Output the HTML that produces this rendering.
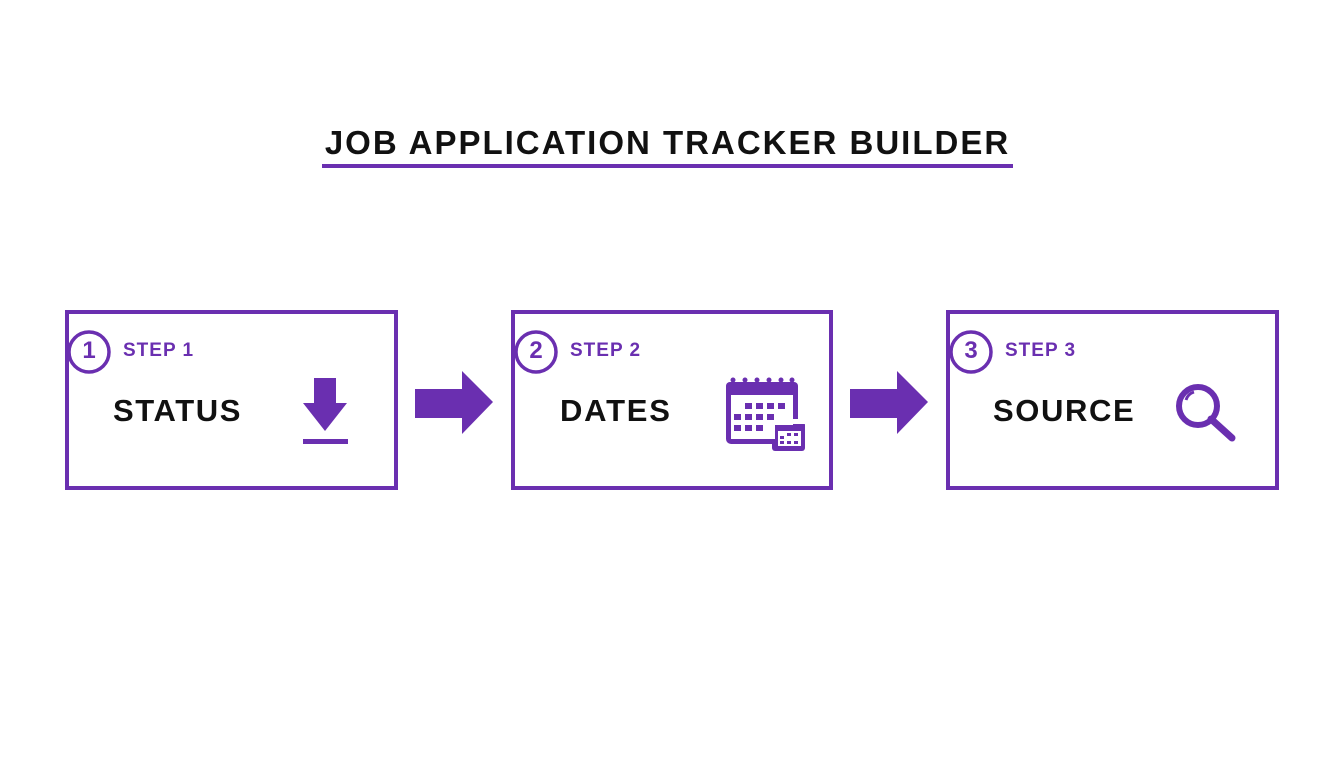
<!DOCTYPE html>
<html><head><style>
body{margin:0;width:1344px;height:768px;background:#fff;position:relative;overflow:hidden;font-family:"Liberation Sans",sans-serif}
.t{position:absolute;white-space:nowrap;font-weight:bold}
</style></head><body>
<div class="t" style="left:322px;top:124px;width:691px;text-align:center;font-size:33px;color:#111;letter-spacing:2px">JOB APPLICATION TRACKER BUILDER</div>
<div style="position:absolute;left:322px;top:164px;width:691px;height:4px;background:#6a2fb0"></div>
<svg width="1344" height="768" style="position:absolute;left:0;top:0">
<g fill="none" stroke="#6a2fb0" stroke-width="4">
<rect x="67" y="312" width="329" height="176"/>
<rect x="513" y="312" width="318" height="176"/>
<rect x="948" y="312" width="329" height="176"/>
<circle cx="89" cy="352" r="20" stroke-width="3.5"/>
<circle cx="536" cy="352" r="20" stroke-width="3.5"/>
<circle cx="971" cy="352" r="20" stroke-width="3.5"/>
<circle cx="1198" cy="406" r="19" stroke-width="6"/>
<path d="M1186 400 a12 12 0 0 1 8 -8" stroke-width="3"/>
</g>
<g fill="#6a2fb0">
<path d="M415 389H462V371L493 402L462 434V418H415Z"/>
<path d="M850 389H897V371L928 402L897 434V418H850Z"/>
<rect x="314" y="378" width="22" height="27"/>
<path d="M303 403H347L325 431Z"/>
<rect x="303" y="439" width="45" height="5"/>
<rect x="726" y="382" width="72" height="62" rx="5"/>
<rect x="772" y="422" width="33" height="29" rx="3"/>
<line x1="1211" y1="419" x2="1232" y2="438" stroke="#6a2fb0" stroke-width="7" stroke-linecap="round"/>
</g>
<g fill="#fff">
<rect x="731" y="395" width="62" height="44"/>
<rect x="769" y="419" width="39" height="5"/>
</g>
<g fill="#6a2fb0">
<rect x="775" y="425" width="29" height="24"/>
<rect x="726" y="382" width="72" height="12" rx="4"/>
<circle cx="733" cy="380" r="2.5"/><circle cx="745" cy="380" r="2.5"/><circle cx="757" cy="380" r="2.5"/><circle cx="769" cy="380" r="2.5"/><circle cx="781" cy="380" r="2.5"/><circle cx="792" cy="380" r="2.5"/>
<rect x="745" y="403" width="7" height="6"/><rect x="756" y="403" width="7" height="6"/><rect x="767" y="403" width="7" height="6"/><rect x="778" y="403" width="7" height="6"/>
<rect x="734" y="414" width="7" height="6"/><rect x="745" y="414" width="7" height="6"/><rect x="756" y="414" width="7" height="6"/><rect x="767" y="414" width="7" height="6"/>
<rect x="734" y="425" width="7" height="6"/><rect x="745" y="425" width="7" height="6"/><rect x="756" y="425" width="7" height="6"/>
</g>
<g fill="#fff">
<rect x="778" y="431" width="23" height="15"/>
</g>
<g fill="#6a2fb0">
<rect x="780" y="436" width="4" height="3"/><rect x="787" y="433" width="4" height="3"/><rect x="794" y="433" width="4" height="3"/>
<rect x="780" y="441" width="4" height="3"/><rect x="787" y="441" width="4" height="3"/><rect x="794" y="441" width="4" height="3"/>
</g>
</svg>
<div class="t" style="left:69px;top:337px;width:40px;text-align:center;font-size:24px;color:#6a2fb0">1</div>
<div class="t" style="left:516px;top:337px;width:40px;text-align:center;font-size:24px;color:#6a2fb0">2</div>
<div class="t" style="left:951px;top:337px;width:40px;text-align:center;font-size:24px;color:#6a2fb0">3</div>
<div class="t" style="left:123px;top:340px;font-size:19px;color:#6a2fb0;letter-spacing:1px">STEP 1</div>
<div class="t" style="left:570px;top:340px;font-size:19px;color:#6a2fb0;letter-spacing:1px">STEP 2</div>
<div class="t" style="left:1005px;top:340px;font-size:19px;color:#6a2fb0;letter-spacing:1px">STEP 3</div>
<div class="t" style="left:113px;top:393px;font-size:31px;color:#111;letter-spacing:1.6px">STATUS</div>
<div class="t" style="left:560px;top:393px;font-size:31px;color:#111;letter-spacing:1.8px">DATES</div>
<div class="t" style="left:993px;top:393px;font-size:31px;color:#111;letter-spacing:1.6px">SOURCE</div>
</body></html>
